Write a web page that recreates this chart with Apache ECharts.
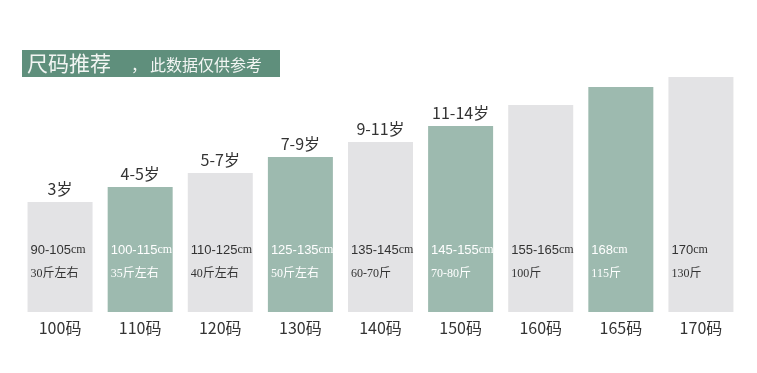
<!DOCTYPE html>
<html><head><meta charset="utf-8">
<script src="https://cdn.jsdelivr.net/npm/echarts@6/dist/echarts.min.js"></script>
<style>html,body{margin:0;padding:0;background:#fff}#c{width:757px;height:373px}</style>
</head><body><div id="c"></div>
<script>
var categories = ['100码','110码','120码','130码','140码','150码','160码','165码','170码'];
var values = [110, 125, 139, 155, 170, 186, 207, 225, 235];
var ageLabels = ['3岁','4-5岁','5-7岁','7-9岁','9-11岁','11-14岁','','',''];
var heightLabels = ['90-105','100-115','110-125','125-135','135-145','145-155','155-165','168','170'];
var weightLabels = ['30斤左右','35斤左右','40斤左右','50斤左右','60-70斤','70-80斤','100斤','115斤','130斤'];

var GREY = '#e3e3e5', GREEN = '#9dbaaf';
var chart = echarts.init(document.getElementById('c'), null, {renderer:'canvas'});
function isGreen(i){ return i % 2 === 1; }
chart.setOption({
  animation: false,
  grid: {left: 20, right: 16, top: 62, bottom: 61},
  xAxis: {
    type: 'category', data: categories,
    axisLine: {show: false}, axisTick: {show: false},
    axisLabel: {margin: 8, fontSize: 16, color: '#333', fontFamily: 'Noto Sans CJK SC'}
  },
  yAxis: {type: 'value', min: 0, max: 250, show: false, splitLine: {show: false}},
  graphic: [
    {type: 'rect', shape: {x: 22, y: 50, width: 258, height: 27}, style: {fill: '#5f8f7c'}},
    {type: 'text', x: 27, y: 63.5, style: {text: '尺码推荐', fill: '#f2f5f3', font: '21px "Noto Sans CJK SC"', textVerticalAlign: 'middle', letterSpacing: 3}},
    {type: 'text', x: 131, y: 65, style: {text: '，', fill: '#f2f5f3', font: '16px "Noto Sans CJK SC"', textVerticalAlign: 'middle'}},
    {type: 'text', x: 150, y: 65, style: {text: '此数据仅供参考', fill: '#f2f5f3', font: '16px "Noto Sans CJK SC"', textVerticalAlign: 'middle', letterSpacing: 1.6}}
  ],
  series: [
    {
      type: 'bar', data: values, barWidth: 65, barGap: '-100%',
      itemStyle: {color: function(p){ return isGreen(p.dataIndex) ? GREEN : GREY; }},
      label: {
        show: true, position: 'insideBottomLeft', distance: 3, offset: [0, -23],
        formatter: function(p){
          var g = isGreen(p.dataIndex) ? 'w' : 'd';
          return '{' + g + 'a|' + heightLabels[p.dataIndex] + '}{' + g + 'b|cm}\n{' + g + 'c|' + weightLabels[p.dataIndex] + '}';
        },
        rich: {
          da: {fontSize: 13, color: '#333', fontFamily: 'Liberation Sans', lineHeight: 24},
          db: {fontSize: 12, color: '#333', fontFamily: 'Liberation Serif', lineHeight: 24},
          dc: {fontSize: 12, color: '#333', fontFamily: 'Liberation Serif, Noto Sans CJK SC', lineHeight: 24},
          wa: {fontSize: 13, color: '#fff', fontFamily: 'Liberation Sans', lineHeight: 24},
          wb: {fontSize: 12, color: '#fff', fontFamily: 'Liberation Serif', lineHeight: 24},
          wc: {fontSize: 12, color: '#fff', fontFamily: 'Liberation Serif, Noto Sans CJK SC', lineHeight: 24}
        }
      }
    },
    {
      type: 'bar', data: values, barWidth: 65, barGap: '-100%', silent: true,
      itemStyle: {color: 'rgba(0,0,0,0)'},
      label: {
        show: true, position: 'top', distance: 5, fontSize: 16, color: '#333',
        fontFamily: 'Noto Sans CJK SC',
        formatter: function(p){ return ageLabels[p.dataIndex]; }
      }
    }
  ]
});
</script></body></html>
